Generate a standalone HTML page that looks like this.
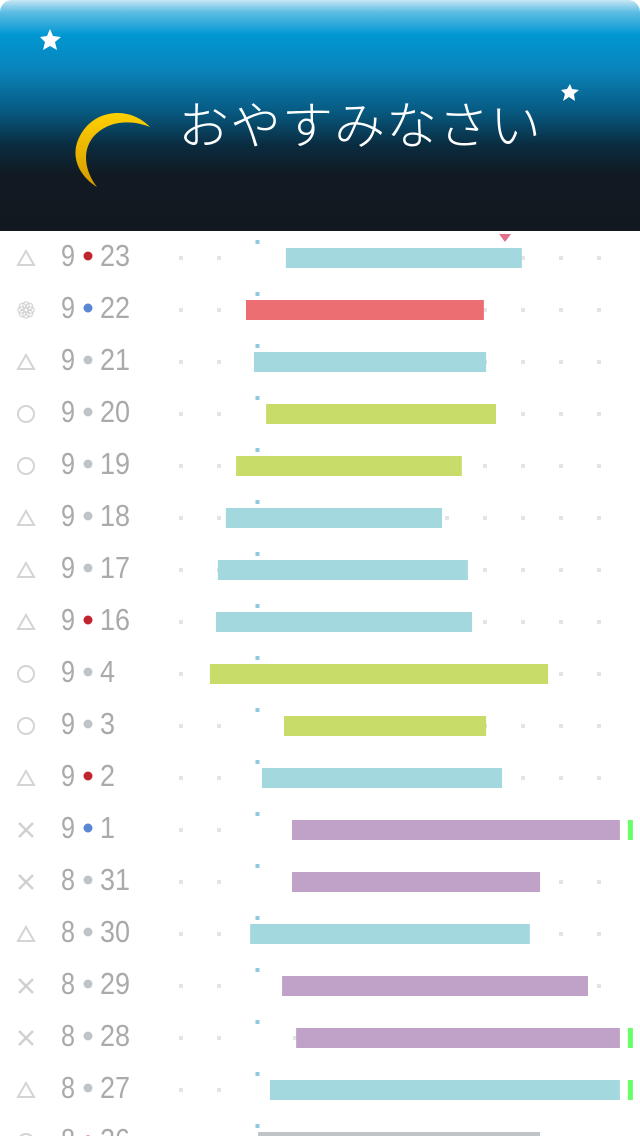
<!DOCTYPE html>
<html><head><meta charset="utf-8">
<style>
html,body{margin:0;padding:0;background:#fff;width:640px;height:1136px;overflow:hidden}
#hdr{position:absolute;left:0;top:0;width:640px;height:231px;border-radius:12px 12px 0 0;
background:linear-gradient(#c6e6f4 0px,#5fbde4 12px,#0097d2 35px,#0a84ba 70px,#075c84 110px,#0a2c40 145px,#111a22 175px,#111820 231px);overflow:hidden}
#title{position:absolute;left:178px;top:85px;font:51px "Noto Sans CJK JP",sans-serif;color:#fff;letter-spacing:1px;font-weight:300;white-space:nowrap}
svg{position:absolute;left:0;top:0}
</style></head><body>
<div id="hdr">
<svg width="640" height="231">
<defs><linearGradient id="mg" x1="0" y1="0" x2="0" y2="1"><stop offset="0" stop-color="#ffd000"/><stop offset="1" stop-color="#d49a00"/></linearGradient></defs>
<path d="M150,127 C128,104 90,110 78,140 C70,160 82,178 97,187 C84,170 82,150 94,136 C108,121 130,119 150,127 Z" fill="url(#mg)"/>
<polygon fill="#fff" points="50,29 53,36 61,37 55,42 57,50 50,46 43,50 45,42 40,37 47,36"/>
<polygon fill="#fff" points="570,84 572,89 579,90 574,94 575,101 569,97 563,101 565,94 561,90 567,89"/>
</svg>
<div id="title">おやすみなさい</div>
</div>
<svg id="chart" width="640" height="1136"></svg>
<script>
const dates=["9•23","9•22","9•21","9•20","9•19","9•18","9•17","9•16","9•4","9•3","9•2","9•1","8•31","8•30","8•29","8•28","8•27","8•26"];
const icons=["tri","flower","tri","circle","circle","tri","tri","tri","circle","circle","tri","x","x","tri","x","x","tri","circle"];
const dotKinds=["red","blue","gray","gray","gray","gray","gray","red","gray","gray","red","blue","gray","gray","gray","gray","gray","red"];
const starts=[2.76,1.71,1.92,2.24,1.45,1.18,0.97,0.92,0.76,2.71,2.13,2.92,2.92,1.82,2.66,3.03,2.34,2.03];
const ends=[8.97,7.97,8.03,8.29,7.39,6.87,7.55,7.66,9.66,8.03,8.45,11.55,9.45,9.18,10.71,11.55,11.55,9.45];
const kinds=["cyan","red","cyan","green","green","cyan","cyan","cyan","green","green","cyan","purple","purple","cyan","purple","purple","cyan","gray"];
const overflow=[0,0,0,0,0,0,0,0,0,0,0,1,0,0,0,1,1,0];
const gridTicks=[0,1,2,3,4,5,6,7,8,9,10,11];
const NS="http://www.w3.org/2000/svg";
const svg=document.getElementById('chart');
const x=v=>181+v*38;
const rowY=i=>258+i*52;
const barCol={cyan:"#a3d8de",red:"#ec6e72",green:"#c8dc6a",purple:"#c0a2c8",gray:"#c0c4c8"};
const dotCol={red:"#c0242c",blue:"#5b86d6",gray:"#bfc4c8"};
function mk(t,a){const e=document.createElementNS(NS,t);for(const k in a)e.setAttribute(k,a[k]);svg.appendChild(e);return e;}
dates.forEach((d,i)=>{
  const cy=rowY(i);
  const g=mk('g',{});
  
  
  gridTicks.forEach(t=>{if(t===2)return;const r=mk('rect',{x:x(t)-2,y:cy-2,width:4,height:4,fill:"#e4e4e4"});});
  const bt=mk('rect',{x:x(2)-1.5,y:cy-18,width:4,height:4,fill:"#8fc8e0"});
  
  const b=mk('rect',{x:x(starts[i]),y:cy-10,width:x(ends[i])-x(starts[i]),height:20,fill:barCol[kinds[i]]});
  
  if(overflow[i]){const o=mk('rect',{x:x(ends[i])+8,y:cy-10,width:5,height:20,fill:"#66ff66"});}
  const ic=icons[i];let e;const ix=26;
  if(ic==="tri")e=mk('polygon',{points:`${ix},${cy-7} ${ix+8},${cy+7} ${ix-8},${cy+7}`,fill:"none",stroke:"#d4d4d4","stroke-width":2});
  else if(ic==="circle")e=mk('circle',{cx:ix,cy:cy,r:8,fill:"none",stroke:"#d4d4d4","stroke-width":2});
  else if(ic==="x")e=mk('path',{d:`M${ix-7},${cy-7}L${ix+7},${cy+7}M${ix+7},${cy-7}L${ix-7},${cy+7}`,stroke:"#d0d0d0","stroke-width":2.5});
  else{e=mk('g',{});for(let k=0;k<8;k++){const a=k*Math.PI/4;const c=document.createElementNS(NS,'circle');c.setAttribute('cx',ix+5*Math.cos(a));c.setAttribute('cy',cy+5*Math.sin(a));c.setAttribute('r',3.2);c.setAttribute('fill','none');c.setAttribute('stroke','#d4d4d4');c.setAttribute('stroke-width',1.2);e.appendChild(c);}}
  
  const [m,dd]=d.split('•');
  const t1=mk('text',{x:61,y:cy+8,"font-family":"Liberation Sans, sans-serif","font-size":31,fill:"#aaaaaa",textLength:14,lengthAdjust:"spacingAndGlyphs"});t1.textContent=m;
  
  const dot=mk('circle',{cx:88,cy:cy-2,r:4.5,fill:dotCol[dotKinds[i]]});
  
  const t2=mk('text',{x:100,y:cy+8,"font-family":"Liberation Sans, sans-serif","font-size":31,fill:"#aaaaaa",textLength:dd.length*15,lengthAdjust:"spacingAndGlyphs"});t2.textContent=dd;
  
});
const tri=mk('polygon',{points:"499,234 511,234 505,242",fill:"#e0708c"});


</script>
</body></html>
